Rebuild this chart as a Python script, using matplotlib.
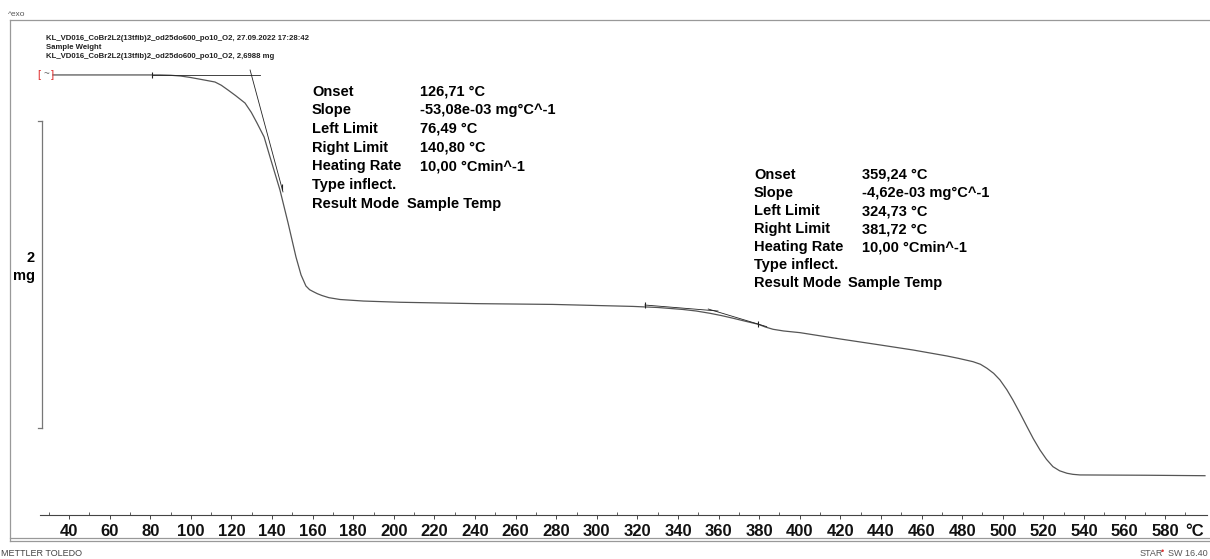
import matplotlib
matplotlib.use("Agg")
import matplotlib.pyplot as plt
from matplotlib.lines import Line2D
from matplotlib.transforms import blended_transform_factory

plt.rcParams['font.family'] = ['Liberation Sans', 'DejaVu Sans']

# TGA curve: temperature (°C) vs sample weight (mg)
temp = [32.1, 60.0, 84.8, 90.0, 95.0, 99.6, 105.0, 111.9, 115.0, 118.3, 122.0,
        126.7, 129.8, 132.6, 136.1, 139.0, 143.9, 147.9, 151.8, 154.3, 156.7,
        158.5, 160.2, 162.3, 164.6, 168.0, 173.5, 185.0, 203.1, 241.0, 278.4,
        317.8, 330.0, 342.5, 349.0, 355.8, 361.5, 367.1, 373.0, 379.4, 383.0,
        386.8, 392.0, 400.1, 419.8, 439.5, 455.8, 472.5, 478.0, 485.3, 489.0,
        492.2, 495.5, 498.6, 502.0, 505.0, 508.5, 511.9, 515.0, 518.3, 521.5,
        524.7, 528.0, 531.6, 534.5, 538.0, 571.0, 599.6]
weight = [2.699, 2.699, 2.699, 2.697, 2.692, 2.683, 2.670, 2.653, 2.632, 2.601, 2.565,
          2.516, 2.455, 2.386, 2.295, 2.165, 1.950, 1.735, 1.513, 1.396, 1.324,
          1.300, 1.288, 1.274, 1.262, 1.248, 1.236, 1.226, 1.218, 1.209, 1.204,
          1.191, 1.184, 1.171, 1.161, 1.146, 1.131, 1.114, 1.095, 1.075, 1.057,
          1.042, 1.031, 1.020, 0.979, 0.940, 0.907, 0.868, 0.853, 0.831, 0.814,
          0.788, 0.755, 0.712, 0.648, 0.581, 0.495, 0.408, 0.330, 0.256, 0.195,
          0.147, 0.120, 0.104, 0.097, 0.093, 0.091, 0.088]

# onset construction lines (baseline + inflection tangent) for both steps
base1_t = [80.9, 134.1]
base1_m = [2.699, 2.699]
tang1_t = [129.2, 145.4]
tang1_m = [2.731, 1.937]
base2_t = [323.7, 359.7]
base2_m = [1.200, 1.161]
tang2_t = [354.9, 383.7]
tang2_m = [1.174, 1.059]
mark_t = [80.9, 144.9, 323.7, 379.4]
mark_m = [2.699, 1.969, 1.200, 1.077]

step1_labels = ['Onset', 'Slope', 'Left Limit', 'Right Limit', 'Heating Rate', 'Type inflect.', 'Result Mode']
step1_values = ['126,71 °C', '-53,08e-03 mg°C^-1', '76,49 °C', '140,80 °C', '10,00 °Cmin^-1', '', 'Sample Temp']
step2_values = ['359,24 °C', '-4,62e-03 mg°C^-1', '324,73 °C', '381,72 °C', '10,00 °Cmin^-1', '', 'Sample Temp']

xticks = list(range(40, 600, 20))

W, H = 1210, 559
fig = plt.figure(figsize=(W / 100, H / 100), dpi=100)
fig.patch.set_facecolor('white')

def fx(x):
    return x / W

def fy(y):
    return 1 - y / H

ax = fig.add_axes([fx(40), fy(515), fx(1207) - fx(40), fy(20) - fy(515)])
ax.set_facecolor('none')
ax.set_xlim(25.7, 600.6)
ax.set_ylim(-0.168, 3.057)
for s in ['top', 'left', 'right']:
    ax.spines[s].set_visible(False)
ax.spines['bottom'].set_color('#444')
ax.spines['bottom'].set_linewidth(0.8)
ax.set_yticks([])
ax.set_xticks(xticks)
ax.set_xticklabels([str(t) for t in xticks], fontsize=12, fontweight='bold')
ax.set_xticks(range(30, 600, 10), minor=True)
ax.tick_params(axis='x', which='major', direction='out', length=3, width=0.7, pad=3.5, colors='#444', labelcolor='#111')
ax.tick_params(axis='x', which='minor', direction='in', length=2.5, width=0.6, colors='#444')

ax.plot(temp, weight, color='#555', lw=0.9)
ax.plot(base1_t, base1_m, color='#222', lw=0.6)
ax.plot(tang1_t, tang1_m, color='#222', lw=0.6)
ax.plot(base2_t, base2_m, color='#222', lw=0.6)
ax.plot(tang2_t, tang2_m, color='#222', lw=0.6)
ax.plot(mark_t, mark_m, ls='none', marker='|', ms=5, mew=0.8, color='#222')

# red start bracket
ax.text(25.3, 2.699, '[', color='#e03030', fontsize=8, ha='center', va='center', clip_on=False)
ax.text(28.6, 2.705, '~', color='#666', fontsize=7, ha='center', va='center', clip_on=False)
ax.text(31.6, 2.699, ']', color='#e03030', fontsize=8, ha='center', va='center', clip_on=False)

fig.text(fx(1195), fy(531), '°C', fontsize=12, fontweight='bold', ha='center', va='center', color='#111')

# result tables
for i, (lab, v1, v2) in enumerate(zip(step1_labels, step1_values, step2_values)):
    y1 = 91.5 + i * 18.7
    y2 = 175 + i * 18.05
    fig.text(fx(312), fy(y1), lab, fontsize=10.5, fontweight='bold', va='center')
    fig.text(fx(754), fy(y2), lab, fontsize=10.5, fontweight='bold', va='center')
    if i == 6:
        fig.text(fx(407), fy(y1), v1, fontsize=10.5, fontweight='bold', va='center')
        fig.text(fx(848), fy(y2), v2, fontsize=10.5, fontweight='bold', va='center')
    else:
        fig.text(fx(420), fy(y1), v1, fontsize=10.5, fontweight='bold', va='center')
        fig.text(fx(862), fy(y2), v2, fontsize=10.5, fontweight='bold', va='center')

# 2 mg scale bar
tr = blended_transform_factory(fig.transFigure, ax.transData)
bar_top = 2.399
bar_bot = bar_top - 2.0
for seg in [([fx(41.5), fx(41.5)], [bar_bot, bar_top]),
            ([fx(38), fx(41.5)], [bar_top, bar_top]),
            ([fx(38), fx(41.5)], [bar_bot, bar_bot])]:
    fig.add_artist(Line2D(seg[0], seg[1], transform=tr, color='#777', lw=0.9))
fig.text(fx(35), fy(258), '2', fontsize=10.5, fontweight='bold', ha='right', va='center')
fig.text(fx(35), fy(276), 'mg', fontsize=10.5, fontweight='bold', ha='right', va='center')

# header
hdr = ['KL_VD016_CoBr2L2(13tfib)2_od25do600_po10_O2, 27.09.2022 17:28:42',
       'Sample Weight',
       'KL_VD016_CoBr2L2(13tfib)2_od25do600_po10_O2, 2,6988 mg']
for i, h in enumerate(hdr):
    fig.text(fx(46), fy(38 + i * 9.5), h, fontsize=5.6, fontweight='bold', va='center', color='#222')

fig.text(fx(8), fy(14), '^exo', fontsize=6, va='center', color='#555')
fig.text(fx(1), fy(553), 'METTLER TOLEDO', fontsize=6.5, va='center', color='#444')
fig.text(fx(1140), fy(553), 'STAR', fontsize=6.5, va='center', color='#555')
fig.text(fx(1161), fy(552), '•', fontsize=6.5, va='center', color='#e03030')
fig.text(fx(1168), fy(553), 'SW 16.40', fontsize=6.5, va='center', color='#555')

# outer frame
for xs, ys in [([10, 1210], [20, 20]), ([10, 10], [20, 541]),
               ([10, 1210], [538, 538]), ([10, 1210], [541, 541])]:
    fig.add_artist(Line2D([fx(x) for x in xs], [fy(y) for y in ys],
                          transform=fig.transFigure, color='#999', lw=0.9))

fig.savefig('out.png', dpi=100)
